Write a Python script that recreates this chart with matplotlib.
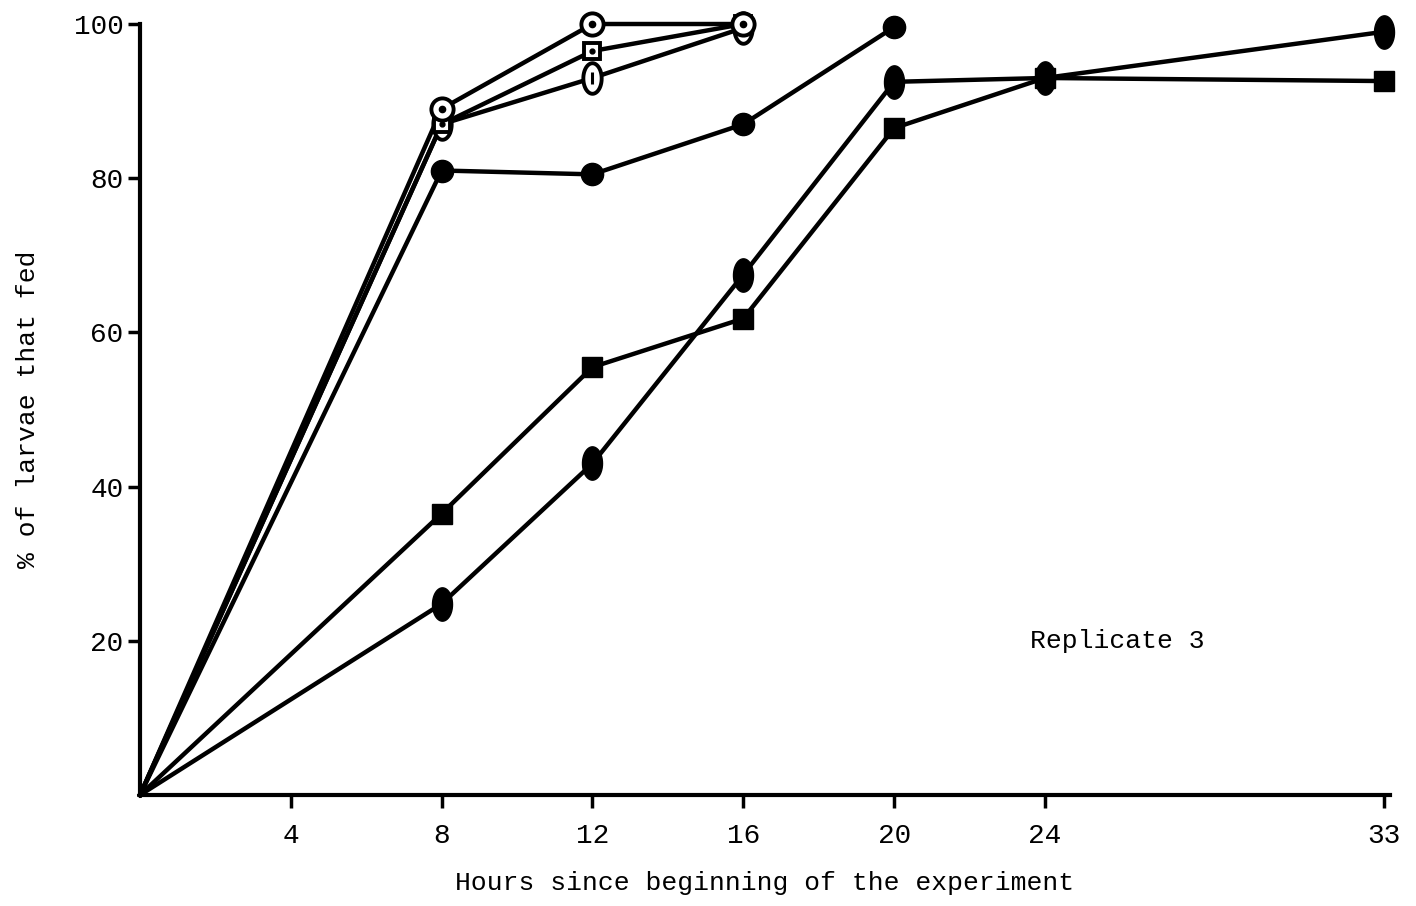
"""Replicate 3: cumulative % of larvae that fed over time, six treatments."""

import matplotlib.pyplot as plt
import numpy as np
from matplotlib.path import Path

plt.rcParams["font.family"] = ["Liberation Mono", "DejaVu Sans Mono"]

# hours since start for each series, and % fed
hours_short = [0, 8, 12, 16]
hours_mid = [0, 8, 12, 16, 20]
hours_long = [0, 8, 12, 16, 20, 24, 33]

open_circle = [0, 89, 100, 100]
open_square = [0, 87, 96.5, 100]
open_ellipse = [0, 87, 93, 99.5]
filled_circle = [0, 81, 80.5, 87, 99.6]
filled_square = [0, 36.5, 55.5, 61.8, 86.5, 93, 92.6]
filled_ellipse = [0, 24.8, 43, 67.5, 92.5, 93, 99]

x_ticks = [4, 8, 12, 16, 20, 24, 33]
y_ticks = [20, 40, 60, 80, 100]

# tall ellipse marker
t = np.linspace(0, 2 * np.pi, 60)
ellipse = Path(np.column_stack([0.6 * np.cos(t), np.sin(t)]), closed=True)

fig = plt.figure(figsize=(14.16, 9.06), dpi=100)
ax = fig.add_axes([0.0989, 0.1225, 0.8827, 0.851])

lw = 3.2
kw = dict(color="black", lw=lw, clip_on=False)

# filled series first
ax.plot(hours_long, filled_ellipse, **kw)
ax.plot(hours_long[1:], filled_ellipse[1:], ls="none", marker=ellipse,
        ms=24, mfc="black", mec="black", clip_on=False)
ax.plot(hours_long, filled_square, marker="s", ms=14, mfc="black", mec="black",
        markevery=list(range(1, 7)), **kw)
ax.plot(hours_mid, filled_circle, marker="o", ms=16, mfc="black", mec="black",
        markevery=list(range(1, 5)), **kw)

# open series
ax.plot(hours_short, open_ellipse, **kw)
ax.plot(hours_short, open_square, **kw)
ax.plot(hours_short, open_circle, **kw)
ax.plot(hours_short[1:], open_ellipse[1:], ls="none", marker=ellipse, ms=22,
        mfc="white", mec="black", mew=2.8, clip_on=False)
ax.plot(hours_short[1:], open_ellipse[1:], ls="none", marker="|", ms=8,
        mec="black", mew=2.2, clip_on=False)
ax.plot(hours_short[1:], open_square[1:], ls="none", marker="s", ms=12,
        mfc="white", mec="black", mew=2.8, clip_on=False)
ax.plot(hours_short[1:], open_square[1:], ls="none", marker="o", ms=3.5,
        mfc="black", mec="black", clip_on=False)
ax.plot(hours_short[1:], open_circle[1:], ls="none", marker="o", ms=16,
        mfc="white", mec="black", mew=2.8, clip_on=False)
ax.plot(hours_short[1:], open_circle[1:], ls="none", marker="o", ms=4.5,
        mfc="black", mec="black", clip_on=False)

ax.set_xlim(0, 33.15)
ax.set_ylim(0, 100)
ax.set_xticks(x_ticks)
ax.set_yticks(y_ticks)
ax.tick_params(axis="both", direction="out", width=2.5, length=9, labelsize=20)
ax.tick_params(axis="x", pad=11)
ax.tick_params(axis="y", pad=3)
ax.spines[["top", "right"]].set_visible(False)
ax.spines["left"].set_linewidth(3)
ax.spines["bottom"].set_linewidth(3)
ax.spines["bottom"].set_bounds(0, 33.15)

ax.set_xlabel("Hours since beginning of the experiment", fontsize=19, labelpad=16)
ax.set_ylabel("% of larvae that fed", fontsize=19, labelpad=24)
ax.text(23.6, 20, "Replicate 3", fontsize=19, va="center", ha="left")

fig.savefig("out.png", dpi=100)
